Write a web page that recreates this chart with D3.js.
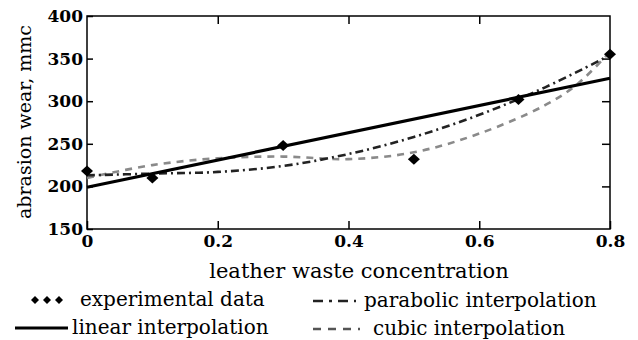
<!DOCTYPE html>
<html><head><meta charset="utf-8">
<script src="https://cdn.jsdelivr.net/npm/d3@7"></script>
</head><body style="margin:0"><svg id="c" width="638" height="340"></svg>
<script>
const xTicks=[0,0.2,0.4,0.6,0.8];
const yTicks=[150,200,250,300,350,400];
const expX=[0,0.1,0.3,0.5,0.66,0.8];
const expY=[218,210,248,232,302,355];
const linX=[0,0.8];
const linY=[199,327];
const parX=[0,0.1,0.2,0.3,0.4,0.5,0.6,0.7,0.8];
const parY=[213,215,217,224,238,258,284,316,354];
const cubX=[0,0.1,0.2,0.3,0.4,0.5,0.6,0.7,0.75,0.8];
const cubY=[210,225,233,235,232,240,262,295,320,358];
const legendLabels=["experimental data","parabolic interpolation","linear interpolation","cubic interpolation"];

const svg=d3.select("#c");
const L=87,R=610,T=16,B=229;
const x=d3.scaleLinear().domain([0,0.8]).range([L,R]);
const y=d3.scaleLinear().domain([150,400]).range([B,T]);
const FF='DejaVu Serif';

svg.append("rect").attr("x",L).attr("y",T).attr("width",R-L).attr("height",B-T)
  .attr("fill","none").attr("stroke","#000").attr("stroke-width",1.5);
const xa=svg.append("g").attr("transform",`translate(0,${B})`)
  .call(d3.axisBottom(x).tickValues(xTicks).tickSize(-8).tickPadding(6).tickFormat(d=>d===0?"0":d3.format(".1f")(d)));
xa.select(".domain").remove();
xa.selectAll("text").attr("font-family",FF).attr("font-size",17).attr("font-weight","bold").attr("fill","#000");
const xt=svg.append("g").attr("transform",`translate(0,${T})`)
  .call(d3.axisTop(x).tickValues(xTicks.slice(1,-1)).tickSize(-8).tickFormat(""));
xt.select(".domain").remove();
const ya=svg.append("g").attr("transform",`translate(${L},0)`)
  .call(d3.axisLeft(y).tickValues(yTicks).tickSize(-6).tickPadding(4));
ya.select(".domain").remove();
ya.selectAll("text").attr("font-family",FF).attr("font-size",17).attr("font-weight","bold").attr("fill","#000");
const yr=svg.append("g").attr("transform",`translate(${R},0)`)
  .call(d3.axisRight(y).tickValues(yTicks.slice(1,-1)).tickSize(-8).tickFormat(""));
yr.select(".domain").remove();
svg.selectAll(".tick line").attr("stroke","#000").attr("stroke-width",1.5);

const line=d3.line().x(d=>x(d[0])).y(d=>y(d[1]));
const sm=d3.line().x(d=>x(d[0])).y(d=>y(d[1])).curve(d3.curveCatmullRom);
svg.append("path").attr("d",sm(cubX.map((v,i)=>[v,cubY[i]]))).attr("fill","none")
  .attr("stroke","#8a8a8a").attr("stroke-width",2.6).attr("stroke-dasharray","7,6");
svg.append("path").attr("d",sm(parX.map((v,i)=>[v,parY[i]]))).attr("fill","none")
  .attr("stroke","#222").attr("stroke-width",2.6).attr("stroke-dasharray","8,4,2,4");
svg.append("path").attr("d",line(linX.map((v,i)=>[v,linY[i]]))).attr("fill","none")
  .attr("stroke","#000").attr("stroke-width",3.2);
const dia=(w,h)=>`M0,${-h}L${w},0L0,${h}L${-w},0Z`;
svg.selectAll(".pt").data(expX.map((v,i)=>[v,expY[i]])).enter().append("path")
  .attr("d",dia(6,5.5)).attr("transform",d=>`translate(${x(d[0])},${y(d[1])})`).attr("fill","#000");

const T1=(sel)=>sel.attr("font-family",FF).attr("fill","#000");
svg.append("text").attr("x",359).attr("y",278).attr("text-anchor","middle").attr("font-size",21).call(T1).text("leather waste concentration");
svg.append("text").attr("transform","translate(31,122) rotate(-90)").attr("text-anchor","middle").attr("font-size",19).call(T1).text("abrasion wear, mmc");

const lg=svg.append("g");
[35,47,59].forEach(cx=>lg.append("path").attr("d",dia(4,4)).attr("transform",`translate(${cx},300)`).attr("fill","#000"));
lg.append("text").attr("x",80).attr("y",306).attr("font-size",20).call(T1).text(legendLabels[0]);
lg.append("line").attr("x1",15).attr("x2",68).attr("y1",328).attr("y2",328).attr("stroke","#000").attr("stroke-width",3.2);
lg.append("text").attr("x",72).attr("y",334).attr("font-size",20).call(T1).text(legendLabels[2]);
lg.append("line").attr("x1",313).attr("x2",356).attr("y1",301).attr("y2",301).attr("stroke","#222").attr("stroke-width",2.6).attr("stroke-dasharray","10,6,3,6");
lg.append("text").attr("x",364).attr("y",307).attr("font-size",20).call(T1).text(legendLabels[1]);
lg.append("line").attr("x1",313).attr("x2",360).attr("y1",329).attr("y2",329).attr("stroke","#555").attr("stroke-width",2.6).attr("stroke-dasharray","8,7");
lg.append("text").attr("x",373).attr("y",335).attr("font-size",20).call(T1).text(legendLabels[3]);
</script></body></html>
